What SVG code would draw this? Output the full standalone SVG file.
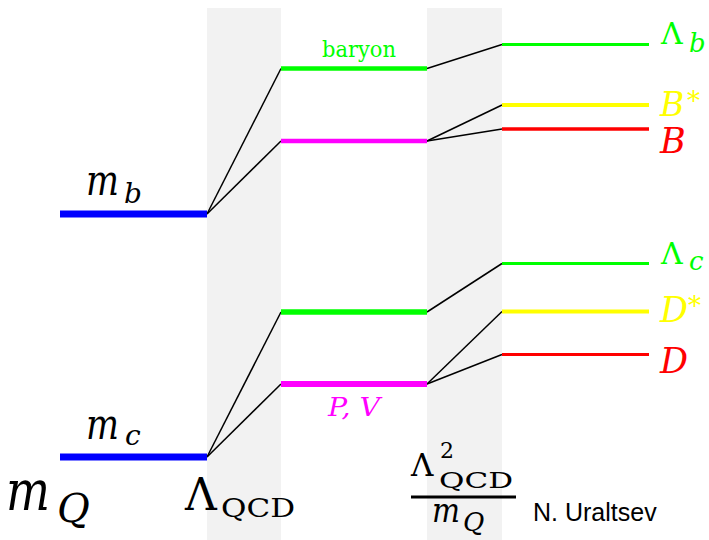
<svg xmlns="http://www.w3.org/2000/svg" width="709" height="540" viewBox="0 0 709 540">
<style>
.band{fill:#f2f2f2}
.conn{stroke:#000;stroke-width:1.5;fill:none}
text{font-family:'DejaVu Serif',serif}
.m{font-style:italic}
.g{fill:#00ff00}.y{fill:#ffff00}.r{fill:#ff0000}.p{fill:#ff00ff}.k{fill:#000}
</style>
<rect width="709" height="540" fill="#fff"/>
<rect class="band" x="207" y="8" width="74" height="532"/>
<rect class="band" x="427" y="8" width="75" height="532"/>
<g id="connectors">
<line class="conn" x1="207" y1="214" x2="281" y2="68.5"/>
<line class="conn" x1="207" y1="214" x2="281" y2="141"/>
<line class="conn" x1="427" y1="68.5" x2="502" y2="44.5"/>
<line class="conn" x1="427" y1="141" x2="502" y2="105"/>
<line class="conn" x1="427" y1="141" x2="502" y2="129"/>
<line class="conn" x1="207" y1="457" x2="281" y2="312"/>
<line class="conn" x1="207" y1="457" x2="281" y2="384"/>
<line class="conn" x1="427" y1="312" x2="502" y2="263.5"/>
<line class="conn" x1="427" y1="384" x2="502" y2="311.5"/>
<line class="conn" x1="427" y1="384" x2="502" y2="354.5"/>
</g>
<g id="mb">
<line x1="60" y1="214" x2="207" y2="214" stroke="#0000ff" stroke-width="7"/>
<text class="m k" x="86" y="195" font-size="42" textLength="33" lengthAdjust="spacingAndGlyphs">m</text>
<text class="m k" x="124" y="203" font-size="28">b</text>
</g>
<g id="mc">
<line x1="60" y1="457" x2="207" y2="457" stroke="#0000ff" stroke-width="7"/>
<text class="m k" x="86" y="439" font-size="42" textLength="33" lengthAdjust="spacingAndGlyphs">m</text>
<text class="m k" x="125" y="445" font-size="28">c</text>
</g>
<g id="b-baryon">
<line x1="281" y1="68.5" x2="427" y2="68.5" stroke="#00ff00" stroke-width="4.5"/>
<text class="g" x="322" y="57" font-size="22" textLength="74" lengthAdjust="spacingAndGlyphs">baryon</text>
</g>
<g id="b-meson">
<line x1="281" y1="141" x2="427" y2="141" stroke="#ff00ff" stroke-width="4.5"/>
</g>
<g id="c-baryon">
<line x1="281" y1="312" x2="427" y2="312" stroke="#00ff00" stroke-width="5.5"/>
</g>
<g id="c-meson">
<line x1="281" y1="384" x2="427" y2="384" stroke="#ff00ff" stroke-width="6"/>
<text class="m p" x="328" y="416" font-size="26" textLength="52" lengthAdjust="spacingAndGlyphs">P, V</text>
</g>
<g id="Lambda-b">
<line x1="502" y1="44.5" x2="649" y2="44.5" stroke="#00ff00" stroke-width="3"/>
<text class="g" x="661" y="43.5" font-size="30">Λ</text>
<text class="m g" x="689" y="51.5" font-size="26">b</text>
</g>
<g id="B-star">
<line x1="502" y1="105" x2="649" y2="105" stroke="#ffff00" stroke-width="4"/>
<text class="m y" x="660" y="116" font-size="33">B</text>
<text class="y" x="687" y="110" font-size="26">*</text>
</g>
<g id="B">
<line x1="502" y1="129" x2="649" y2="129" stroke="#ff0000" stroke-width="3.5"/>
<text class="m r" x="660" y="153" font-size="35">B</text>
</g>
<g id="Lambda-c">
<line x1="502" y1="263.5" x2="649" y2="263.5" stroke="#00ff00" stroke-width="3"/>
<text class="g" x="661" y="263.5" font-size="30">Λ</text>
<text class="m g" x="689" y="270" font-size="26">c</text>
</g>
<g id="D-star">
<line x1="502" y1="311.5" x2="649" y2="311.5" stroke="#ffff00" stroke-width="4"/>
<text class="m y" x="660" y="322" font-size="35">D</text>
<text class="y" x="688" y="315" font-size="26">*</text>
</g>
<g id="D">
<line x1="502" y1="354.5" x2="649" y2="354.5" stroke="#ff0000" stroke-width="3"/>
<text class="m r" x="660" y="373" font-size="35">D</text>
</g>
<g id="axis-labels">
<text class="m k" x="6" y="510" font-size="56" textLength="44" lengthAdjust="spacingAndGlyphs">m</text>
<text class="m k" x="57" y="522" font-size="40">Q</text>
<text class="k" x="185" y="510" font-size="44">Λ</text>
<text class="k" x="221" y="517" font-size="26" textLength="74" lengthAdjust="spacingAndGlyphs">QCD</text>
<text class="k" x="411" y="476" font-size="31">Λ</text>
<text class="k" x="440" y="458" font-size="22">2</text>
<text class="k" x="439" y="488" font-size="22" textLength="74" lengthAdjust="spacingAndGlyphs">QCD</text>
<line x1="411" y1="497" x2="516" y2="497" stroke="#000" stroke-width="3"/>
<text class="m k" x="432" y="522" font-size="34" textLength="28" lengthAdjust="spacingAndGlyphs">m</text>
<text class="m k" x="463" y="531" font-size="26">Q</text>
<text x="533" y="521" style="font-family:'Liberation Sans',Arial,sans-serif" font-size="25" fill="#000">N. Uraltsev</text>
</g>
</svg>
